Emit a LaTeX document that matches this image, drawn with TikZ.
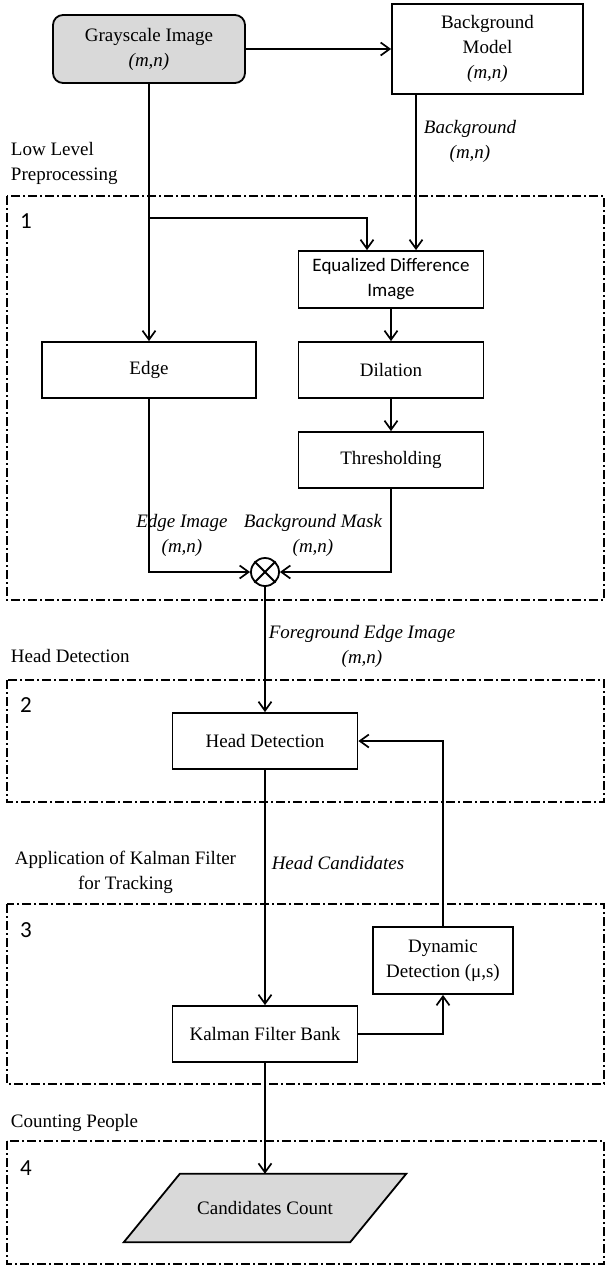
\documentclass[tikz,border=0pt]{standalone}
\usepackage{fontspec}
\setmainfont{Liberation Serif}
\newfontfamily\calfont{Carlito}
\usetikzlibrary{arrows.meta}

\newcommand{\txtsize}{\fontsize{19}{25}\selectfont}

\tikzset{
  blockbox/.style={draw,line width=1.8pt,minimum width=185pt,minimum height=56pt,align=center,inner sep=2pt},
  stagebox/.style={line width=1.5pt,dash pattern=on 9pt off 3pt on 2pt off 3pt},
  flow/.style={line width=1.7pt,->},
  note/.style={font=\txtsize\itshape,align=center,inner sep=0.75pt},
  stagename/.style={anchor=west,align=left,inner sep=0.75pt},
  stagenum/.style={font=\calfont\fontsize{23}{26}\selectfont,inner sep=0.75pt}
}

\begin{document}
\begin{tikzpicture}[x=1pt,y=-1pt,font=\txtsize,>={Straight Barb[length=9pt,width=13pt]}]
\useasboundingbox (0,0) rectangle (606,1266);
%Stages
\draw[stagebox] (7,196) rectangle (604,600);
\draw[stagebox] (7,680) rectangle (604,802);
\draw[stagebox] (7,904) rectangle (604,1084);
\draw[stagebox] (7,1141) rectangle (604,1264);
%Blocks
\node[blockbox,fill=black!15,rounded corners=10pt,minimum width=192pt,minimum height=68pt] (gray) at (149,49) {Grayscale Image\\\textit{(m,n)}};
\node[blockbox,minimum width=191pt,minimum height=90pt] (bgmodel) at (487.5,49) {Background\\Model\\\textit{(m,n)}};
\node[blockbox,font=\calfont\txtsize,minimum height=57pt] (eqdiff) at (391,279.5) {Equalized Difference\\Image};
\node[blockbox,minimum width=214pt] (edge) at (149,370) {Edge};
\node[blockbox] (dilation) at (391,370) {Dilation};
\node[blockbox] (thresh) at (391,460) {Thresholding};
\node[draw,circle,line width=1.8pt,minimum size=28pt,inner sep=0pt] (mult) at (265,572) {};
\node[blockbox] (headdet) at (265,741) {Head Detection};
\node[blockbox] (kalman) at (265,1034) {Kalman Filter Bank};
\node[blockbox,minimum width=140pt,minimum height=67pt] (dyndet) at (443,960.5) {Dynamic\\Detection (μ,s)};
\node[minimum width=282pt,minimum height=68pt] (count) at (265,1208) {};
\filldraw[line width=1.8pt,fill=black!15] ([xshift=56pt]count.north west) -- (count.north east)
  -- ([xshift=-56pt]count.south east) -- (count.south west) -- cycle;
\node (counttext) at (count) {Candidates Count};
\draw[line width=1.8pt] (mult.north west) -- (mult.south east);
\draw[line width=1.8pt] (mult.north east) -- (mult.south west);
%Connectors
\coordinate (split) at (149,218);
\draw[flow] (gray) -- (bgmodel);
\draw[flow] (gray) -- (edge);
\draw[flow] (split) -| ([xshift=-24pt]eqdiff.north);
\draw[flow] (bgmodel.south -| 416,0) -- (eqdiff.north -| 416,0);
\draw[flow] (eqdiff) -- (dilation);
\draw[flow] (dilation) -- (thresh);
\draw[flow] (edge) |- (mult);
\draw[flow] (thresh) |- (mult);
\draw[flow] (mult) -- (headdet);
\draw[flow] (headdet) -- (kalman);
\draw[flow] (kalman) -| (dyndet);
\draw[flow] (dyndet) |- (headdet);
\draw[flow] (kalman) -- (count);
%Text
\node[note] (bglabel) at (470,141) {Background\\(m,n)};
\node[note] (edgelabel) at (182,535) {Edge Image\\(m,n)};
\node[note] (masklabel) at (313,535) {Background Mask\\(m,n)};
\node[note] (fglabel) at (362,646) {Foreground Edge Image\\(m,n)};
\node[note] (candlabel) at (338,863) {Head Candidates};
\node[stagename] (stage1name) at (10,163) {Low Level\\Preprocessing};
\node[stagename] (stage2name) at (10,656) {Head Detection};
\node[stagename,align=center] (stage3name) at (14,872) {Application of Kalman Filter\\for Tracking};
\node[stagename] (stage4name) at (10,1123) {Counting People};
\node[stagenum] (stage1num) at (26,221) {1};
\node[stagenum] (stage2num) at (26,705) {2};
\node[stagenum] (stage3num) at (26,930) {3};
\node[stagenum] (stage4num) at (26,1168) {4};
\end{tikzpicture}
\end{document}
